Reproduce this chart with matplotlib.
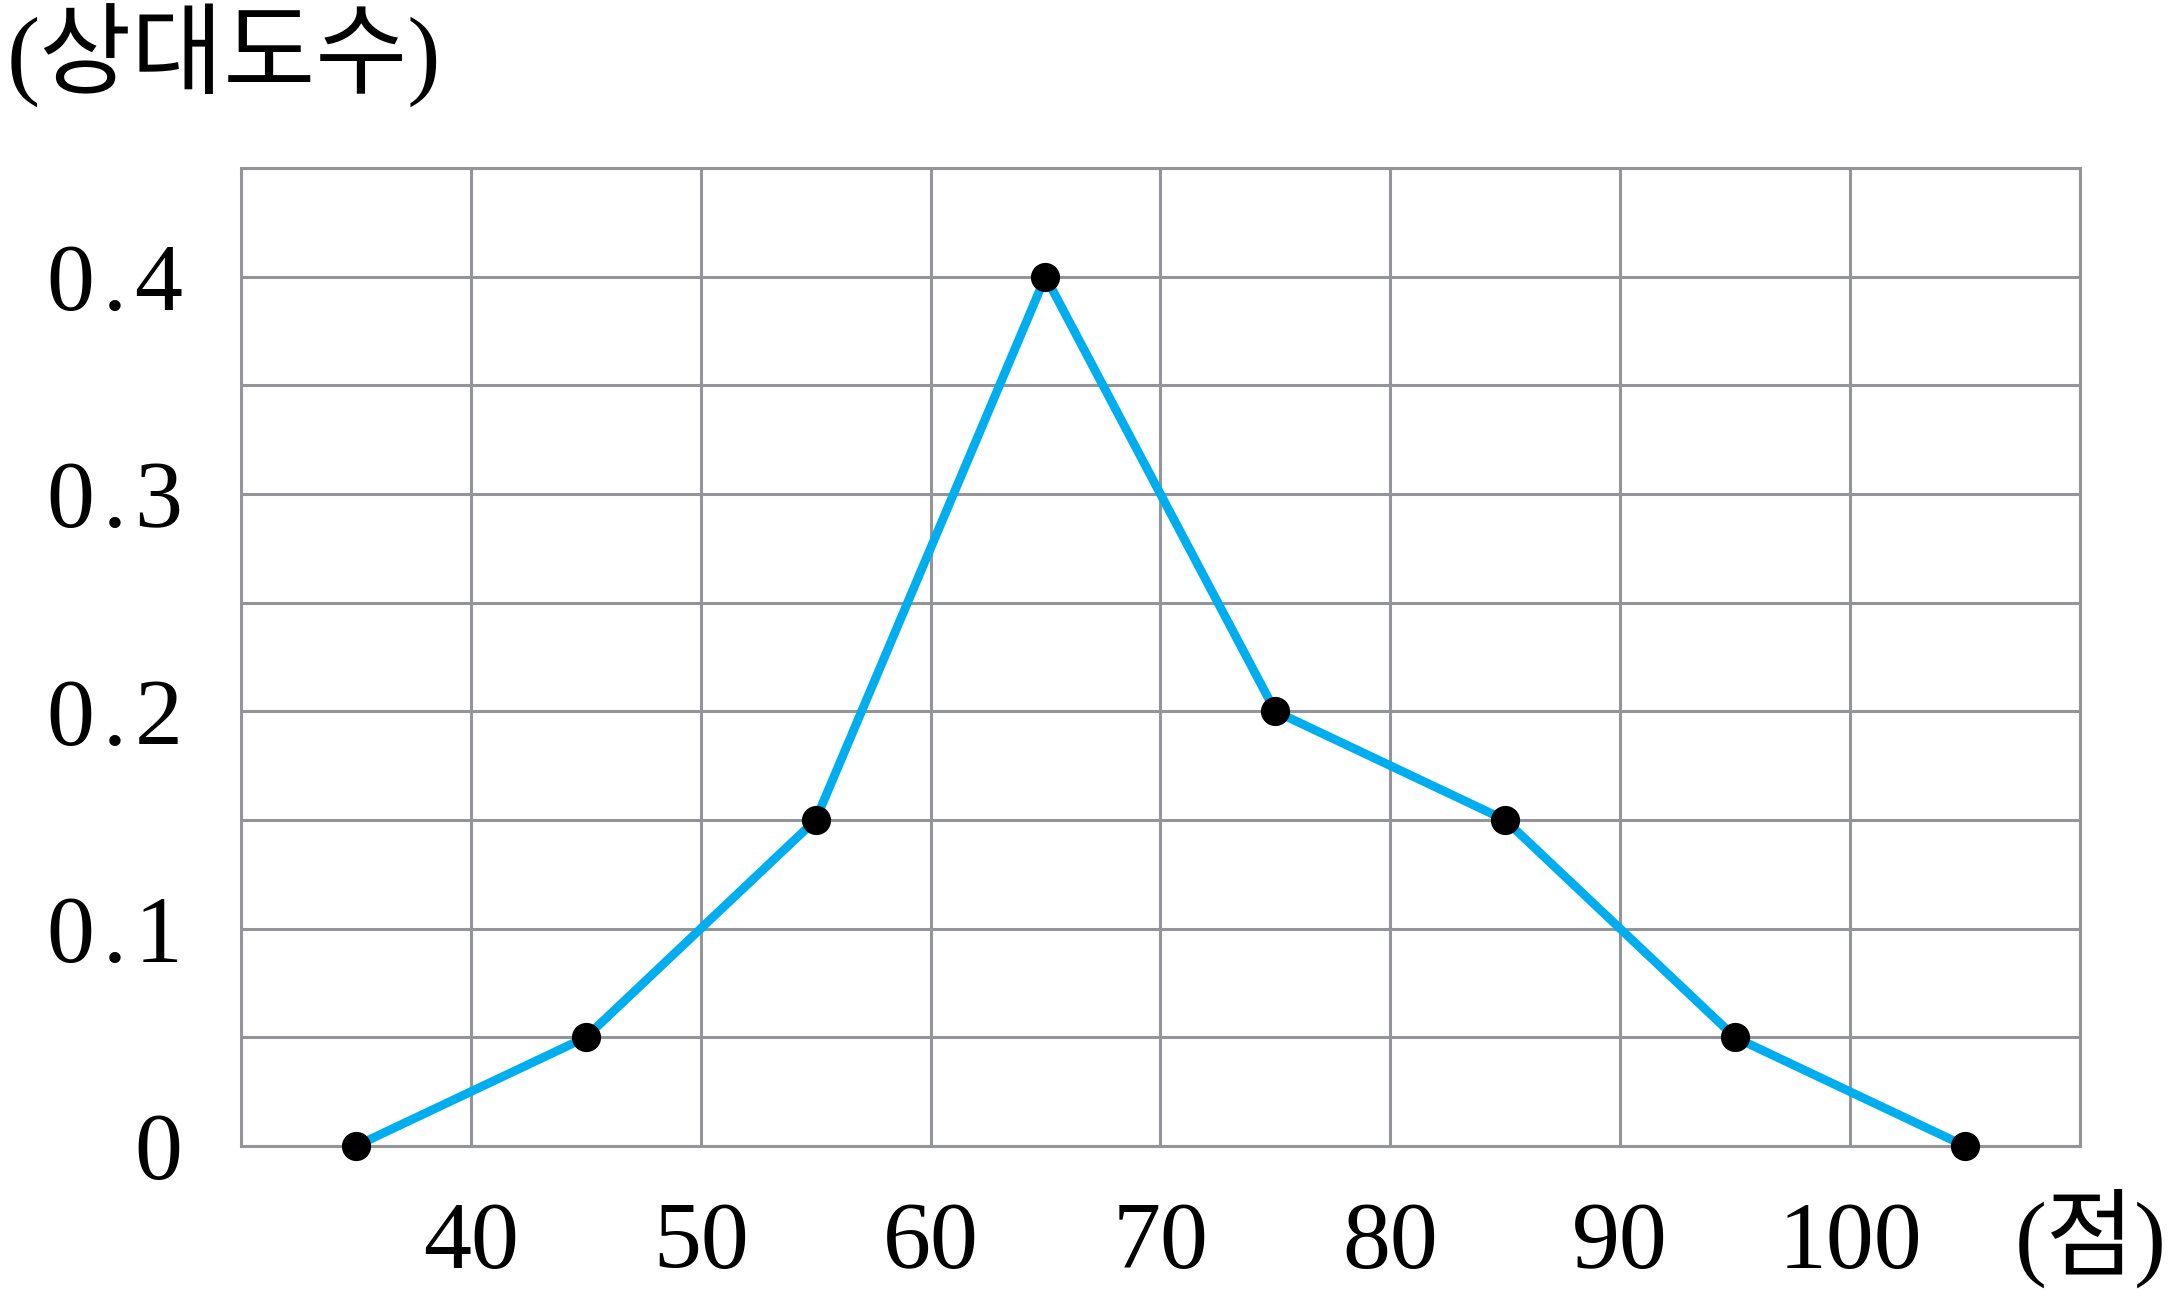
import matplotlib

matplotlib.use("Agg")
import matplotlib.pyplot as plt

# 계급값(점)과 상대도수
scores = [35, 45, 55, 65, 75, 85, 95, 105]
rel_freq = [0, 0.05, 0.15, 0.4, 0.2, 0.15, 0.05, 0]

x_ticks = [30, 40, 50, 60, 70, 80, 90, 100, 110]
x_labels = ["", "40", "50", "60", "70", "80", "90", "100", ""]
y_ticks = [0, 0.05, 0.1, 0.15, 0.2, 0.25, 0.3, 0.35, 0.4, 0.45]
y_labels = ["0", "", "0\u200a.\u200a1", "", "0\u200a.\u200a2", "",
            "0\u200a.\u200a3", "", "0\u200a.\u200a4", ""]

GRID = "#939598"
BLUE = "#00AEEF"
FONTS = ["Liberation Serif", "Noto Sans CJK KR", "DejaVu Sans"]
plt.rcParams["font.family"] = FONTS

fig = plt.figure(figsize=(21.71, 12.98), dpi=100)
ax = fig.add_axes([0.111, 0.1171, 0.847, 0.7535])

ax.set_xlim(30, 110)
ax.set_ylim(0, 0.45)
ax.set_xticks(x_ticks)
ax.set_xticklabels(x_labels, fontsize=69)
ax.set_yticks(y_ticks)
ax.set_yticklabels(y_labels, fontsize=69)
ax.tick_params(length=0)
ax.tick_params(axis="x", pad=40)
ax.tick_params(axis="y", pad=42)
ax.grid(True, color=GRID, linewidth=2.2)
for sp in ax.spines.values():
    sp.set_color(GRID)
    sp.set_linewidth(2.2)
ax.set_axisbelow(True)

ax.plot(scores, rel_freq, color=BLUE, linewidth=6.3, clip_on=False, zorder=3)
ax.plot(scores, rel_freq, "o", color="black", markersize=20, clip_on=False, zorder=4)

ax.text(1.006, -0.094, "(점)", fontsize=69, ha="center", va="center",
        family=FONTS, transform=ax.transAxes, clip_on=False)
fig.text(0.003, 0.957, "(상대도수)", fontsize=72, ha="left", va="center", family=FONTS)

fig.savefig("out.png", dpi=100)
